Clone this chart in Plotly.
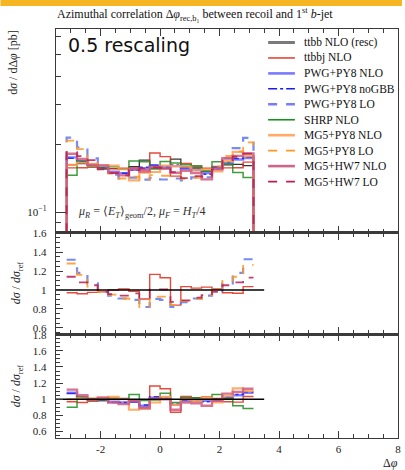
import numpy as np
import plotly.graph_objects as go

# ---------------- data ----------------
n_bins = 18
bin_edges = np.linspace(-np.pi, np.pi, n_bins + 1)

# reference: ttbb NLO (resc) cross section per bin [pb]
ttbb_resc = [0.162, 0.164, 0.162, 0.158, 0.156, 0.155, 0.159, 0.170, 0.157,
             0.156, 0.172, 0.159, 0.157, 0.152, 0.158, 0.162, 0.163, 0.161]

# ratios to the reference
r_ttbbj = [0.97, 0.96, 0.975, 0.98, 1.0, 1.01, 0.985, 0.905, 1.165,
           1.13, 0.84, 1.035, 1.02, 1.03, 1.01, 0.97, 0.965, 1.035]
r_pwg_nlo = [1.08, 1.02, 1.0, 0.99, 0.97, 0.96, 0.97, 0.92, 1.02,
             1.02, 0.93, 0.98, 0.98, 0.98, 0.99, 1.02, 1.05, 1.08]
r_pwg_nogbb = [1.07, 1.02, 1.0, 0.99, 0.96, 0.96, 0.97, 0.93, 1.03,
               1.02, 0.94, 0.99, 0.98, 0.97, 0.98, 1.03, 1.06, 1.09]
r_pwg_lo = [1.32, 1.18, 1.07, 1.0, 0.94, 0.91, 0.895, 0.82, 0.905,
            0.895, 0.82, 0.87, 0.91, 0.94, 0.99, 1.07, 1.18, 1.325]
r_shrp = [0.90, 1.03, 0.99, 0.99, 1.02, 1.0, 1.06, 0.985, 0.99,
          1.075, 0.96, 1.02, 1.02, 1.0, 1.06, 1.01, 0.92, 0.885]
r_mg5py8_nlo = [1.0, 1.01, 1.01, 1.02, 1.03, 1.0, 0.87, 0.88, 0.96,
                1.03, 0.93, 1.0, 0.98, 1.02, 0.96, 1.04, 1.135, 1.10]
r_mg5py8_lo = [1.28, 1.16, 1.035, 0.98, 0.95, 0.91, 0.905, 0.82, 0.93,
               0.93, 0.84, 0.885, 0.905, 0.945, 1.01, 1.095, 1.14, 1.265]
r_mg5hw7_nlo = [1.12, 1.05, 1.0, 1.02, 0.96, 0.94, 0.98, 0.89, 1.01,
                1.0, 0.87, 0.96, 0.95, 0.92, 0.98, 1.07, 1.09, 1.13]
r_mg5hw7_lo = [1.14, 1.08, 1.05, 0.98, 0.955, 0.94, 0.965, 0.92, 1.005,
               1.005, 0.875, 0.89, 0.92, 0.945, 0.98, 1.05, 1.08, 1.13]

labels = ["ttbb NLO (resc)", "ttbbj NLO", "PWG+PY8 NLO", "PWG+PY8 noGBB",
          "PWG+PY8 LO", "SHRP NLO", "MG5+PY8 NLO", "MG5+PY8 LO",
          "MG5+HW7 NLO", "MG5+HW7 LO"]
ratios = [None, r_ttbbj, r_pwg_nlo, r_pwg_nogbb, r_pwg_lo, r_shrp,
          r_mg5py8_nlo, r_mg5py8_lo, r_mg5hw7_nlo, r_mg5hw7_lo]
middle_panel = ["ttbbj NLO", "PWG+PY8 LO", "MG5+PY8 LO", "MG5+HW7 LO"]
bottom_panel = ["ttbbj NLO", "PWG+PY8 NLO", "PWG+PY8 noGBB", "SHRP NLO",
                "MG5+PY8 NLO", "MG5+HW7 NLO"]
ratio_ref_x = [-3.5, 3.5]
ratio_ref_y = [1, 1]
x_tick_vals = [-2, 0, 2, 4, 6, 8]

# ---------------- styles ----------------
styles = {
    "ttbb NLO (resc)": dict(color="#111111", width=1.3, dash="solid", leg="#7a7a7a", lw=3),
    "ttbbj NLO": dict(color="#e02a1a", width=1.4, dash="solid", leg="#e02a1a", lw=1.4),
    "PWG+PY8 NLO": dict(color="#6f6fff", width=2.4, dash="solid", leg="#7a7aff", lw=2.6),
    "PWG+PY8 noGBB": dict(color="#1a1aee", width=1.5, dash="dashdot", leg="#1a1aee", lw=1.5),
    "PWG+PY8 LO": dict(color="#5f78f0", width=2.2, dash="dash", leg="#7a7aff", lw=2.4),
    "SHRP NLO": dict(color="#1f8c1f", width=1.5, dash="solid", leg="#1f8c1f", lw=1.6),
    "MG5+PY8 NLO": dict(color="#ffa050", width=2.2, dash="solid", leg="#ffaa66", lw=2.6),
    "MG5+PY8 LO": dict(color="#ff9520", width=1.8, dash="dash", leg="#ff9520", lw=1.8),
    "MG5+HW7 NLO": dict(color="#d05a80", width=2.4, dash="solid", leg="#cc6688", lw=2.6),
    "MG5+HW7 LO": dict(color="#b81e50", width=1.8, dash="dash", leg="#b81e50", lw=1.8),
}

ref = np.array(ttbb_resc)
fig = go.Figure()

low = 1e-3
for name, rat in zip(labels, ratios):
    st = styles[name]
    vals = ref if rat is None else ref * np.array(rat)
    xs = [bin_edges[0]] + list(bin_edges[:-1]) + [bin_edges[-1], bin_edges[-1]]
    ys = [low] + list(vals) + [vals[-1], low]
    fig.add_trace(go.Scatter(x=xs, y=ys, mode="lines", line_shape="hv",
                             line=dict(color=st["color"], width=st["width"], dash=st["dash"]),
                             opacity=0.85, showlegend=False, xaxis="x", yaxis="y",
                             hoverinfo="skip"))

for axn, group in (("2", middle_panel), ("3", bottom_panel)):
    for name in group:
        st = styles[name]
        rat = ratios[labels.index(name)]
        xs = list(bin_edges)
        ys = list(rat) + [rat[-1]]
        fig.add_trace(go.Scatter(x=xs, y=ys, mode="lines", line_shape="hv",
                                 line=dict(color=st["color"], width=st["width"], dash=st["dash"]),
                                 opacity=0.85, showlegend=False,
                                 xaxis="x" + axn, yaxis="y" + axn, hoverinfo="skip"))
    fig.add_trace(go.Scatter(x=ratio_ref_x, y=ratio_ref_y, mode="lines",
                             line=dict(color="black", width=1.5), showlegend=False,
                             xaxis="x" + axn, yaxis="y" + axn, hoverinfo="skip"))

# ---------------- layout ----------------
W, H = 405, 470
ml, mr, mt, mb = 56, 4, 29, 32
pw, ph = W - ml - mr, H - mt - mb

def px_x(p):
    return (p - ml) / pw

def px_y(p):
    return (H - mb - p) / ph

tick_font = dict(family="Liberation Serif", size=11, color="#222222")
frame = "#3a3a3a"

xcommon = dict(range=[-3.5, 8.0001], tickvals=x_tick_vals,
               ticktext=[str(v) for v in x_tick_vals],
               ticks="inside", ticklen=7, ticklabeloverflow="allow",
               tickcolor=frame, showline=True, linecolor=frame, linewidth=1.3,
               mirror="ticks", showgrid=False, zeroline=False, tickfont=tick_font,
               minor=dict(dtick=0.5, tick0=0, ticks="inside", ticklen=4, tickcolor=frame,
                          showgrid=False))

d_bot = [0, px_y(334.3)]
d_mid = [px_y(334.3), px_y(232.6)]
d_top = [px_y(232.6), 1]

ycommon = dict(ticks="inside", tickcolor=frame, showline=True, linecolor=frame,
               linewidth=1.3, mirror=True, showgrid=False, zeroline=False,
               tickfont=tick_font, ticklabelstandoff=6)

fig.update_layout(
    width=W, height=H, margin=dict(l=ml, r=mr, t=mt, b=mb),
    paper_bgcolor="white", plot_bgcolor="white", showlegend=False,
    xaxis=dict(xcommon, anchor="y", matches="x3", showticklabels=False),
    xaxis2=dict(xcommon, anchor="y2", matches="x3", showticklabels=False),
    xaxis3=dict(xcommon, anchor="y3"),
    yaxis=dict(ycommon, domain=d_top, type="log", range=[-1.09, -0.189],
               tickvals=[0.1], ticktext=["10<sup>−1</sup>"], ticklen=10,
               minor=dict(tickvals=[0.09, 0.2, 0.3, 0.4, 0.5, 0.6], ticks="inside",
                          ticklen=5, tickcolor=frame, showgrid=False)),
    yaxis2=dict(ycommon, domain=d_mid, range=[0.531, 1.607],
                tickvals=[0.6, 0.8, 1, 1.2, 1.4, 1.6],
                ticktext=["0.6", "0.8", "1", "1.2", "1.4", "1.6"], ticklen=7,
                minor=dict(dtick=0.05, tick0=0, ticks="inside", ticklen=3.5,
                           tickcolor=frame, showgrid=False)),
    yaxis3=dict(ycommon, domain=d_bot, range=[0.52, 1.805],
                tickvals=[0.6, 0.8, 1, 1.2, 1.4, 1.6, 1.8],
                ticktext=["0.6", "0.8", "1", "1.2", "1.4", "1.6", "1.8"], ticklen=7,
                minor=dict(dtick=0.05, tick0=0, ticks="inside", ticklen=3.5,
                           tickcolor=frame, showgrid=False)),
)

serif = "Liberation Serif"
ann = []
ann.append(dict(text="Azimuthal correlation Δ<i>φ</i><sub>rec,b₁</sub> between recoil and 1<sup>st</sup> <i>b</i>-jet",
                x=px_x(55), y=px_y(14), xanchor="left", yanchor="middle",
                font=dict(family=serif, size=12, color="#111")))
ann.append(dict(text="0.5 rescaling", x=px_x(66), y=px_y(45), xanchor="left", yanchor="middle",
                font=dict(family="DejaVu Sans", size=19, color="#111")))
ann.append(dict(text="<i>μ</i><sub><i>R</i></sub> = ⟨<i>E</i><sub><i>T</i></sub>⟩<sub>geom</sub>/2, <i>μ</i><sub><i>F</i></sub> = <i>H</i><sub><i>T</i></sub>/4",
                x=px_x(76), y=px_y(212), xanchor="left", yanchor="middle",
                font=dict(family=serif, size=12, color="#333")))
ann.append(dict(text="d<i>σ</i> / dΔ<i>φ</i> [pb]", x=px_x(13), y=px_y(28), textangle=-90,
                xanchor="center", yanchor="top", font=dict(family=serif, size=12, color="#222")))
for yc in (283, 386):
    ann.append(dict(text="<i>dσ</i> / <i>dσ</i><sub>ref</sub>", x=px_x(17), y=px_y(yc), textangle=-90,
                    xanchor="center", yanchor="middle", font=dict(family=serif, size=12, color="#222")))
ann.append(dict(text="Δ<i>φ</i>", x=px_x(403), y=px_y(463), xanchor="right", yanchor="middle",
                font=dict(family=serif, size=12, color="#222")))

shapes = []
# orange top band
shapes.append(dict(type="rect", xref="paper", yref="paper", x0=px_x(0), x1=px_x(405),
                   y0=px_y(6), y1=px_y(0), fillcolor="#f6b623", line=dict(width=0), layer="above"))
# legend
for k, name in enumerate(labels):
    st = styles[name]
    yy = 42.5 + 15.45 * k
    shapes.append(dict(type="line", xref="paper", yref="paper", x0=px_x(270), x1=px_x(297),
                       y0=px_y(yy), y1=px_y(yy),
                       line=dict(color=st["leg"], width=st["lw"], dash=st["dash"])))
    ann.append(dict(text=name, x=px_x(304), y=px_y(yy), xanchor="left", yanchor="middle",
                    font=dict(family=serif, size=11.5, color="#111")))

for a in ann:
    a.update(xref="paper", yref="paper", showarrow=False)
fig.update_layout(annotations=ann, shapes=shapes)

fig.write_html("out.html", config={"displayModeBar": False, "staticPlot": True},
               post_script="document.body.style.margin='0';document.body.style.overflow='hidden';")
